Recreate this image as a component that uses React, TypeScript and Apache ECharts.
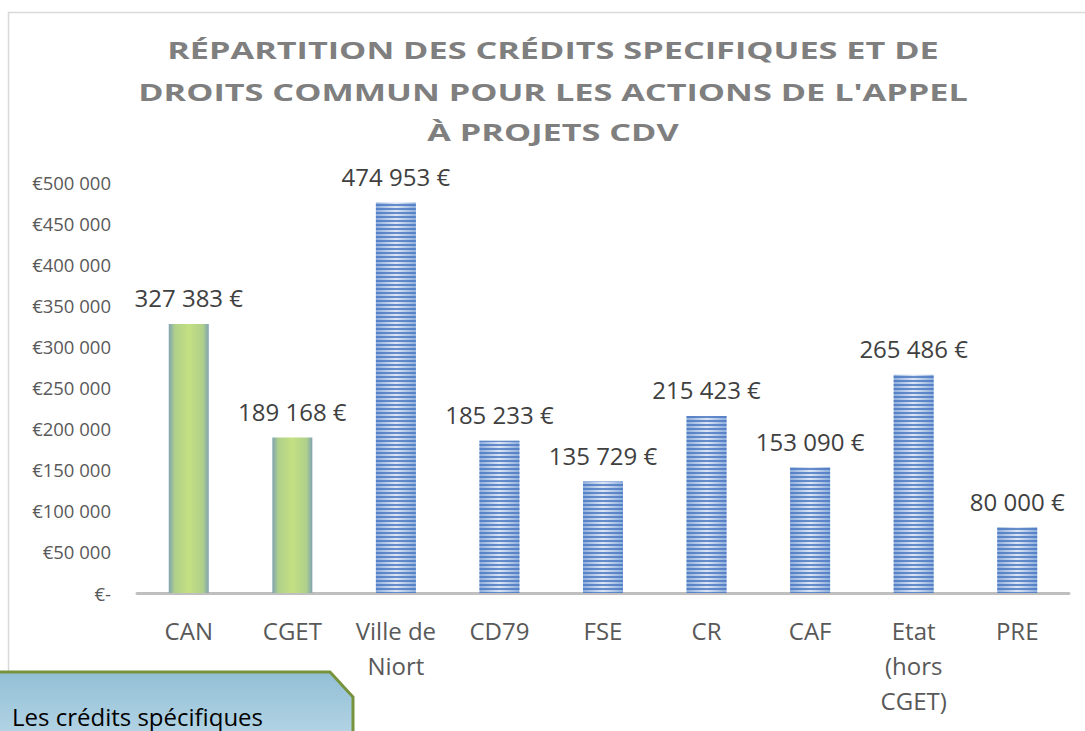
import React, { useEffect, useRef } from "react";
import * as echarts from "echarts";

const categories = ["CAN", "CGET", "Ville de\nNiort", "CD79", "FSE", "CR", "CAF", "Etat\n(hors\nCGET)", "PRE"];
const values = [327383, 189168, 474953, 185233, 135729, 215423, 153090, 265486, 80000];
const specificFlags = [true, true, false, false, false, false, false, false, false];
const titleLines = [
  "RÉPARTITION DES CRÉDITS SPECIFIQUES ET DE",
  "DROITS COMMUN POUR LES ACTIONS DE L'APPEL",
  "À PROJETS CDV",
];
const boxText = "Les crédits spécifiques";

const fmtNum = (v: number) => String(Math.round(v)).replace(/\B(?=(\d{3})+(?!\d))/g, " ");

const greenFill = {
  type: "linear", x: 0, y: 0, x2: 1, y2: 0,
  colorStops: [
    { offset: 0, color: "#7FA3B2" },
    { offset: 0.15, color: "#B0D08A" },
    { offset: 0.5, color: "#C3E082" },
    { offset: 0.85, color: "#B0D08A" },
    { offset: 1, color: "#7FA3B2" },
  ],
};
const blueFill = {
  type: "linear", x: 0, y: 0, x2: 1, y2: 0,
  colorStops: [
    { offset: 0, color: "#8EAEDC" },
    { offset: 0.5, color: "#DCE6F4" },
    { offset: 1, color: "#8EAEDC" },
  ],
};
const blueDecal = {
  symbol: "rect",
  symbolSize: 1,
  dashArrayX: [1, 0],
  dashArrayY: [2, 2],
  rotation: 0,
  color: "rgba(72,118,192,0.8)",
};

export default function App() {
  const ref = useRef<HTMLDivElement>(null);
  useEffect(() => {
    if (!ref.current) return;
    const chart = echarts.init(ref.current, undefined, { renderer: "svg" });
    const data = values.map((v, i) => ({
      value: v,
      itemStyle: specificFlags[i]
        ? { color: greenFill }
        : { color: blueFill, decal: blueDecal },
    }));
    const titleY = [50, 92, 132];
    chart.setOption({
      animation: false,
      grid: { left: 137, right: 16, top: 182, bottom: 138, containLabel: false },
      xAxis: {
        type: "category",
        data: categories,
        axisLine: { show: true, lineStyle: { color: "#BFBFBF", width: 3 } },
        axisTick: { show: false },
        axisLabel: {
          interval: 0,
          color: "#595959",
          fontFamily: "Open Sans",
          fontSize: 24,
          lineHeight: 35,
          margin: 20,
        },
      },
      yAxis: {
        type: "value",
        min: 0,
        max: 500000,
        interval: 50000,
        axisLine: { show: false },
        axisTick: { show: false },
        splitLine: { show: false },
        axisLabel: {
          color: "#595959",
          fontFamily: "Open Sans",
          fontSize: 18.5,
          margin: 26,
          formatter: (v: number) => (v === 0 ? "€-" : "€" + fmtNum(v)),
        },
      },
      series: [
        {
          type: "bar",
          data,
          barWidth: 40,
          label: {
            show: true,
            position: "top",
            distance: 13,
            color: "#404040",
            fontFamily: "Open Sans",
            fontSize: 24,
            lineHeight: 26,
            formatter: (p: any) => fmtNum(p.value) + " €",
          },
        },
      ],
      graphic: [
        {
          type: "rect",
          shape: { x: 8.5, y: 12.5, width: 1200, height: 1000 },
          style: { fill: "none", stroke: "#D9D9D9", lineWidth: 1.5 },
          silent: true,
          z: -10,
        },
        ...titleLines.map((t, i) => ({
          type: "text",
          x: 553,
          y: titleY[i],
          scaleX: 1.49,
          style: {
            text: t,
            fill: "#7F7F7F",
            font: "bold 23px 'Open Sans'",
            textAlign: "center",
            textVerticalAlign: "middle",
          },
        })),
        {
          type: "polygon",
          shape: { points: [[-5, 672], [330, 672], [353, 697], [353, 745], [-5, 745]] },
          style: {
            fill: {
              type: "linear", x: 0, y: 0, x2: 0, y2: 1,
              colorStops: [
                { offset: 0, color: "#92BFD5" },
                { offset: 1, color: "#B8D7E7" },
              ],
            },
            stroke: "#77933C",
            lineWidth: 3,
          },
          z: 10,
        },
        {
          type: "text",
          x: 12,
          y: 716,
          style: {
            text: boxText,
            fill: "#000000",
            font: "24px 'Open Sans'",
            textAlign: "left",
            textVerticalAlign: "middle",
          },
          z: 11,
        },
      ],
    });
    return () => chart.dispose();
  }, []);
  return <div ref={ref} style={{ width: 1085, height: 731, position: "absolute", left: 0, top: 0 }} />;
}
